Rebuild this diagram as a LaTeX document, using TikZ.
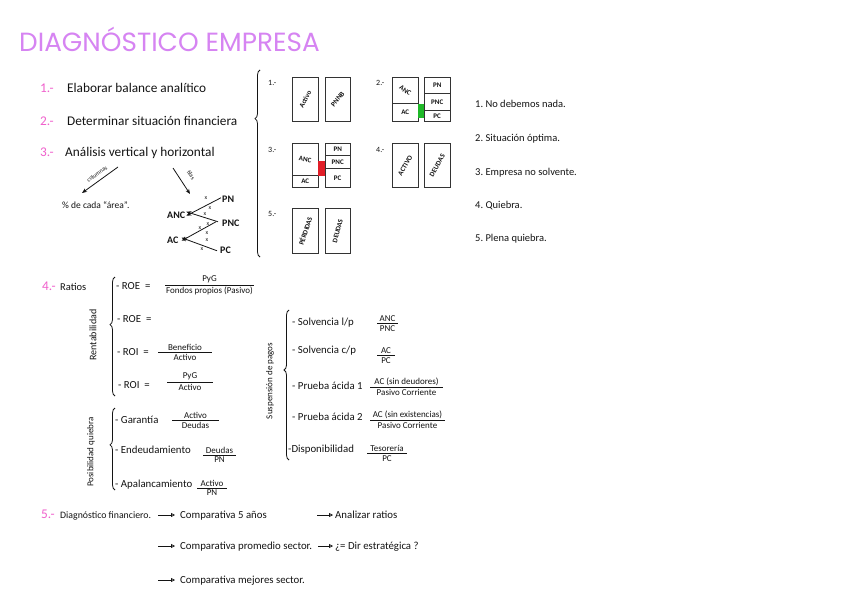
\documentclass[tikz,border=0pt]{standalone}
\usepackage{fontspec}
\setmainfont{Carlito}
\newfontfamily\titlefont{Poppins}
\usetikzlibrary{arrows.meta,decorations.pathreplacing}
\definecolor{titlecol}{RGB}{214,132,242}
\definecolor{numcol}{RGB}{240,96,204}
\definecolor{okgreen}{RGB}{30,185,40}
\definecolor{badred}{RGB}{225,30,40}
\definecolor{ink}{RGB}{20,20,20}
\newcommand\fracpair[6]{%
  \draw[fracline] (#2,#4) -- (#3,#4);
  \node[fr, anchor=south] (#1n) at ({(#2+#3)/2},#4-1.5) {#5};
  \node[fr, anchor=north] (#1d) at ({(#2+#3)/2},#4+2) {#6};}
\begin{document}
\begin{tikzpicture}[x=1pt,y=-1pt,
  txt/.style={anchor=base west, inner sep=0pt, text=ink, font=\fontsize{13.3}{15}\selectfont},
  num/.style={txt, text=numcol},
  rtxt/.style={anchor=base west, inner sep=0pt, text=ink, font=\fontsize{10.5}{12}\selectfont},
  ltxt/.style={anchor=base west, inner sep=0pt, text=ink, font=\fontsize{10.8}{12}\selectfont},
  fr/.style={inner sep=0pt, text=ink, font=\fontsize{9}{10}\selectfont},
  fracline/.style={draw=ink, line width=0.7pt},
  glab/.style={anchor=base west, inner sep=0pt, text=ink, font=\fontsize{8}{9}\selectfont},
  cell/.style={draw=black!80, line width=0.9pt, anchor=north west, inner sep=0pt, minimum width=25.5pt, font=\fontsize{7}{7}\selectfont\bfseries, text=ink},
  bracestyle/.style={draw=ink, line width=0.8pt, decorate},
  harrow/.style={draw=ink, line width=0.8pt, -{Stealth[length=5pt,width=4pt]}},
  tarrow/.style={draw=ink, line width=0.8pt, -{Triangle[open,length=4pt,width=4pt]}},
  tiny/.style={inner sep=0pt, font=\fontsize{6}{6}\selectfont, text=ink},
  side/.style={inner sep=0pt, rotate=90, text=ink, font=\fontsize{10}{11}\selectfont}
]
\useasboundingbox[fill=white] (0,0) rectangle (848,599);

% title
\node[anchor=base west, inner sep=0pt, text=titlecol, font=\titlefont\fontsize{26.3}{30}\selectfont] (title) at (19,52) {DIAGNÓSTICO EMPRESA};

% steps 1-3
\node[num] (n1) at (40,93) {1.-};
\node[txt] (s1) at (67,93) {Elaborar balance analítico};
\node[num] (n2) at (40,125) {2.-};
\node[txt] (s2) at (67,125) {Determinar situación financiera};
\node[num] (n3) at (40,157) {3.-};
\node[txt] (s3) at (65,157) {Análisis vertical y horizontal};

\node[ltxt, font=\fontsize{9.5}{10}\selectfont] (area) at (62,208) {\% de cada “área”.};
\coordinate (colstart) at (118,167);
\coordinate (colend) at (82,193);
\draw[harrow] (colstart) -- (colend);
\node[tiny, rotate=35] (collab) at (97,174) {columnas};
\coordinate (filstart) at (173,168);
\coordinate (filend) at (190,194);
\draw[harrow] (filstart) -- (filend);
\node[tiny, rotate=-57] (fillab) at (191,175) {filas};
\node[txt, font=\fontsize{10}{11}\selectfont\bfseries] (anc) at (167,218) {ANC};
\node[txt, font=\fontsize{10}{11}\selectfont\bfseries] (ac) at (167,243) {AC};
\node[txt, font=\fontsize{10}{11}\selectfont\bfseries] (pn) at (222,202) {PN};
\node[txt, font=\fontsize{10}{11}\selectfont\bfseries] (pnc) at (222,226) {PNC};
\node[txt, font=\fontsize{10}{11}\selectfont\bfseries] (pc) at (220,253) {PC};
\draw[harrow] ([xshift=-1pt,yshift=1pt]pn.west) -- ([xshift=1pt,yshift=-1pt]anc.east);
\draw[harrow] ([xshift=-4pt,yshift=1pt]pnc.west) -- ([xshift=1pt,yshift=3pt]anc.east);
\draw[harrow] ([xshift=-6pt,yshift=1pt]pnc.west) -- ([xshift=3pt,yshift=-1pt]ac.east);
\draw[harrow] ([xshift=-3pt,yshift=-1pt]pc.west) -- ([xshift=3pt,yshift=2pt]ac.east);
\node[tiny] (x1a) at (206,198) {x};
\node[tiny] (x1b) at (210,208) {x};
\node[tiny] (x2a) at (205,214) {x};
\node[tiny] (x2b) at (208,224) {x};
\node[tiny] (x3a) at (200,228) {x};
\node[tiny] (x3b) at (207,233) {x};
\node[tiny] (x4a) at (207,240) {x};
\node[tiny] (x4b) at (202,249) {x};

% big brace
\draw[bracestyle, decoration={brace, amplitude=5pt, aspect=0.74}] (260,257) -- (260,70);

% group 1
\node[glab] (g1) at (268,86) {1.-};
\node[cell, minimum height=44pt] (b1a) at (292,77) {\rotatebox{62}{Activo}};
\node[cell, minimum height=44pt] (b1b) at (324.5,77) {\rotatebox{50}{PNNB}};

% group 2
\node[glab] (g2) at (376,86) {2.-};
\node[cell, minimum height=26pt] (b2anc) at (392,77) {\rotatebox{-35}{ANC}};
\node[cell, minimum height=18pt] (b2ac) at (392,103) {AC};
\node[cell, minimum height=16pt] (b2pn) at (424,77) {PN};
\node[cell, minimum height=17pt] (b2pnc) at (424,93) {PNC};
\node[cell, minimum height=11pt] (b2pc) at (424,110) {PC};
\fill[okgreen] (b2anc.south east) rectangle ([yshift=-7pt]b2pnc.south west);

% group 3
\node[glab] (g3) at (268,153) {3.-};
\node[cell, minimum height=32pt] (b3anc) at (292,143) {\rotatebox{-8}{ANC}};
\node[cell, minimum height=12pt] (b3ac) at (292,175) {AC};
\node[cell, minimum height=12pt] (b3pn) at (324.5,143) {PN};
\node[cell, minimum height=13pt] (b3pnc) at (324.5,155) {PNC};
\node[cell, minimum height=19pt] (b3pc) at (324.5,168) {PC};
\fill[badred] (b3anc.south east) rectangle ([yshift=7pt]b3pc.north west);

% group 4
\node[glab] (g4) at (376,153) {4.-};
\node[cell, minimum height=44pt] (b4a) at (392,143) {\rotatebox{60}{ACTIVO}};
\node[cell, minimum height=44pt] (b4b) at (424,143) {\rotatebox{60}{DEUDAS}};

% group 5
\node[glab] (g5) at (268,216) {5.-};
\node[cell, minimum height=45pt] (b5a) at (292,208) {\rotatebox{72}{PÉRDIDAS}};
\node[cell, minimum height=45pt] (b5b) at (324.5,208) {\rotatebox{75}{DEUDAS}};

% right list
\node[rtxt] (r1) at (475,108) {1.\ No debemos nada.};
\node[rtxt] (r2) at (475,142) {2.\ Situación óptima.};
\node[rtxt] (r3) at (475,175) {3.\ Empresa no solvente.};
\node[rtxt] (r4) at (475,208) {4.\ Quiebra.};
\node[rtxt] (r5) at (475,241) {5.\ Plena quiebra.};

% section 4
\node[num] (n4) at (42,290) {4.-};
\node[txt, font=\fontsize{10.5}{12}\selectfont] (ratios) at (60,290) {Ratios};

\draw[bracestyle, decoration={brace, amplitude=5pt, aspect=0.6}] (115,396) -- (115,277);
\node[side] (rent) at (93,335) {Rentabilidad};
\node[ltxt] (roe1) at (116,289) {- ROE \ =};
\fracpair{f1}{165}{254}{285}{PyG}{Fondos propios (Pasivo)}
\node[ltxt] (roe2) at (117,322) {- ROE \ =};
\node[ltxt] (roi1) at (117,355) {- ROI \ =};
\fracpair{f2}{158}{212}{352}{Beneficio}{Activo}
\node[ltxt] (roi2) at (118,388) {- ROI \ =};
\fracpair{f3}{167}{213}{382}{PyG}{Activo}

\draw[bracestyle, decoration={brace, amplitude=5pt, aspect=0.55}] (115,490) -- (115,408);
\node[side, font=\fontsize{9}{10}\selectfont] (posib) at (91,452) {Posibilidad quiebra};
\node[ltxt] (gar) at (115,423) {- Garantía};
\fracpair{f4}{172}{219}{420}{Activo}{Deudas}
\node[ltxt] (end) at (115,453) {- Endeudamiento};
\fracpair{f5}{203}{236}{455}{Deudas}{PN}
\node[ltxt] (apa) at (115,487) {- Apalancamiento};
\fracpair{f6}{197}{227}{488}{Activo}{PN}

\draw[bracestyle, decoration={brace, amplitude=5pt, aspect=0.6}] (289,460) -- (289,310);
\node[side, font=\fontsize{9}{10}\selectfont] (susp) at (270,381) {Suspensión de pagos};
\node[ltxt] (sol1) at (292,325) {- Solvencia l/p};
\fracpair{f7}{377}{398}{323}{ANC}{PNC}
\node[ltxt] (sol2) at (292,353) {- Solvencia c/p};
\fracpair{f8}{377}{395}{355}{AC}{PC}
\node[ltxt] (pa1) at (292,389) {- Prueba ácida 1};
\fracpair{f9}{370}{443}{387}{AC (sin deudores)}{Pasivo Corriente}
\node[ltxt] (pa2) at (292,420) {- Prueba ácida 2};
\fracpair{f10}{370}{445}{420}{AC (sin existencias)}{Pasivo Corriente}
\node[ltxt] (disp) at (288,452) {-Disponibilidad};
\fracpair{f11}{367}{407}{453}{Tesorería}{PC}

% section 5
\node[num] (n5) at (41,518) {5.-};
\node[ltxt, font=\fontsize{9.8}{11}\selectfont] (diag) at (60,518) {Diagnóstico financiero.};
\node[ltxt] (c1) at (180,518) {Comparativa 5 años};
\node[ltxt] (c2) at (180,549) {Comparativa promedio sector.};
\node[ltxt] (c3) at (180,583) {Comparativa mejores sector.};
\node[ltxt] (a1) at (335,518) {Analizar ratios};
\node[ltxt] (a2) at (335,549) {¿= Dir estratégica ?};
\coordinate (c1s) at (158,515);
\coordinate (c2s) at (158,546);
\coordinate (c3s) at (158,580);
\coordinate (a1s) at (317,515);
\coordinate (a2s) at (318,546);
\draw[tarrow] (c1s) -- ([xshift=-5pt]c1.west |- c1s);
\draw[tarrow] (c2s) -- ([xshift=-5pt]c2.west |- c2s);
\draw[tarrow] (c3s) -- ([xshift=-5pt]c3.west |- c3s);
\draw[tarrow] (a1s) -- ([xshift=-2pt]a1.west |- a1s);
\draw[tarrow] (a2s) -- ([xshift=-2pt]a2.west |- a2s);
\end{tikzpicture}
\end{document}
